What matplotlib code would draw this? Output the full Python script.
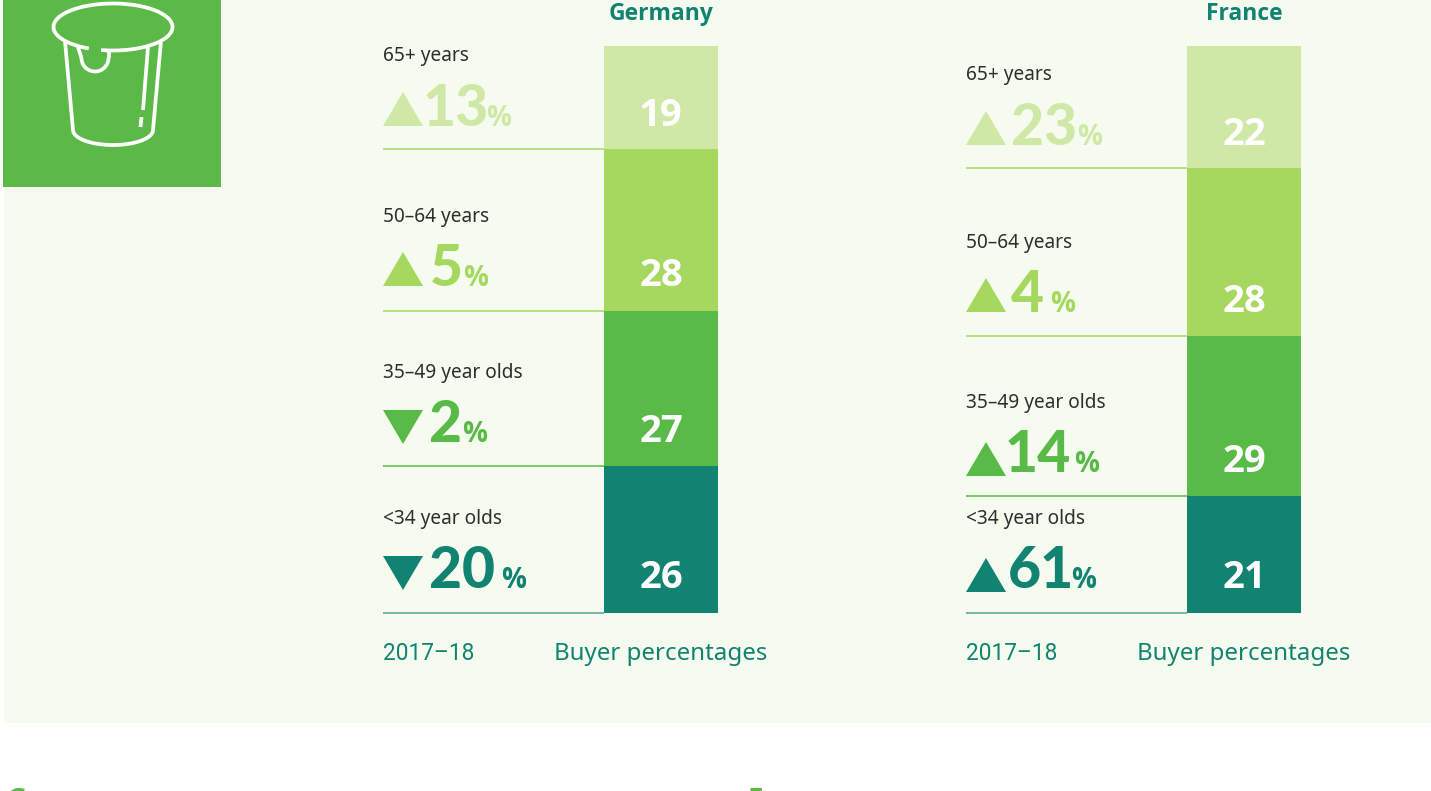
import numpy as np
import matplotlib
matplotlib.use("Agg")
import matplotlib.pyplot as plt
from matplotlib.patches import Rectangle, Polygon

# ---- data ----
age_groups = ["<34 year olds", "35\u201349 year olds", "50\u201364 years", "65+ years"]
germany_share = [26, 27, 28, 19]
france_share = [21, 29, 28, 22]
# drawn segment heights as measured in the picture (percent of the full column)
germany_heights = [25.9, 27.4, 28.5, 18.2]
france_heights = [20.6, 28.2, 29.7, 21.5]
germany_change = [-20, -2, 5, 13]
france_change = [61, 14, 4, 23]
period_label = "2017\u201318"
axis_label = "Buyer percentages"

# ---- styles ----
BG = "#F6FBF0"
DARK = "#128371"
colors = ["#128371", "#5ABA48", "#A6D860", "#CFE8A6"]
line_colors = ["#4FA595", "#5ABA48", "#A6D860", "#A6D860"]
LABEL = "#2E2E2E"
FONT = "Noto Sans"
BOLD = "Open Sans"
BIG = "Lato"

W, H = 1431, 791
fig = plt.figure(figsize=(W / 100, H / 100), dpi=100, facecolor="white")
page = fig.add_axes([0, 0, 1, 1])
page.set_xlim(0, W)
page.set_ylim(H, 0)
page.axis("off")
page.add_patch(Rectangle((4, 0), W - 4, 723, fc=BG, ec="none", zorder=0))
page.add_patch(Rectangle((3, 0), 218, 187, fc="#5BBA47", ec="none", zorder=1))

# ---- icon ----
ic = dict(color="white", lw=2.7, solid_capstyle="butt", zorder=2)
t = np.radians(np.linspace(114, 101.5 + 360, 200))
page.plot(113 + 59.5 * np.cos(t), 27 + 23.5 * np.sin(t), **ic)
page.plot([65, 73], [41, 130], **ic)
page.plot([161, 153], [41, 130], **ic)
t = np.linspace(0, np.pi, 60)
page.plot(113 + 40 * np.cos(t), 130 + 15 * np.sin(t), **ic)
t = np.linspace(0, np.pi, 40)
page.plot(95 + 13.5 * np.cos(t), 58 + 13.5 * np.sin(t), **ic)
page.plot([78, 81.5], [47, 58], **ic)
page.plot([108.5, 108.5], [50, 58], **ic)
page.plot([148, 143], [47, 110], **ic)
page.plot([141.5, 140.5], [117, 127], **ic)


def panel(name, left, bar_left, heights, shares, changes, layout):
    bar_w = 114
    top, bottom = 46, 612.5
    ax = fig.add_axes([left / W, 1 - bottom / H, (bar_left + bar_w - left) / W, (bottom - top) / H])
    ax.set_xlim(left, bar_left + bar_w)
    ax.set_ylim(0, sum(heights))
    ax.axis("off")
    cum = 0
    for i, h in enumerate(heights):
        ax.bar(bar_left + bar_w / 2, h, bar_w, bottom=cum, color=colors[i], lw=0, zorder=2)
        ax.hlines(cum, left, bar_left, color=line_colors[i], lw=1.1, zorder=1, clip_on=False)
        cum += h
    cx = bar_left + bar_w / 2
    page.text(cx, 20, name, ha="center", va="baseline", family=BOLD, weight="bold", fontsize=16.5, color=DARK)
    page.text(left, 659.5, period_label, ha="left", va="baseline", family="Roboto", fontsize=16.3, color=DARK)
    page.text(cx, 659.5, axis_label, ha="center", va="baseline", family=FONT, fontsize=17.3, color=DARK)
    for i in range(4):
        lab_y, big_y, tri_top, num_x, pct_x = layout[i]
        page.text(left, lab_y, age_groups[i], ha="left", va="baseline", family=FONT, fontsize=13.7, color=LABEL)
        c = colors[i]
        tb = tri_top + 34
        if changes[i] >= 0:
            pts = [(left, tb), (left + 40, tb), (left + 20, tri_top)]
        else:
            pts = [(left, tri_top), (left + 40, tri_top), (left + 20, tb)]
        page.add_patch(Polygon(pts, closed=True, fc=c, ec="none", zorder=3))
        page.text(num_x, big_y, str(abs(changes[i])), ha="left", va="baseline", family=BIG, weight=900,
                  fontsize=41, color=c)
        page.text(pct_x, big_y, "%", ha="left", va="baseline", family=BOLD, weight="bold", fontsize=20, color=c)
        ax.text(cx, big_y, str(shares[i]), transform=page.transData, ha="center", va="baseline", family=BOLD,
                weight="bold", fontsize=27.5, color="white", zorder=5, clip_on=False)


# label baseline, number baseline, triangle top, number x, percent x
germany_layout = [(524, 588, 556, 429, 501), (378, 442, 410, 429, 462),
                  (222, 286, 252, 430, 463), (61, 126, 92, 423, 486)]
france_layout = [(524, 588, 558, 1008, 1071), (408, 472, 442, 1005, 1074),
                 (248, 312, 278, 1011, 1050), (80, 145, 111, 1011, 1077)]
panel("Germany", 383, 604, germany_heights, germany_share, germany_change, germany_layout)
panel("France", 966, 1187, france_heights, france_share, france_change, france_layout)

# bottom headings, cut by the figure edge
page.text(6, 809, "Germany", family=BOLD, weight="bold", fontsize=20, color="#5BBA47", va="baseline")
page.text(747, 809, "France", family=BOLD, weight="bold", fontsize=20, color="#5BBA47", va="baseline")

fig.savefig("out.png", dpi=100)
